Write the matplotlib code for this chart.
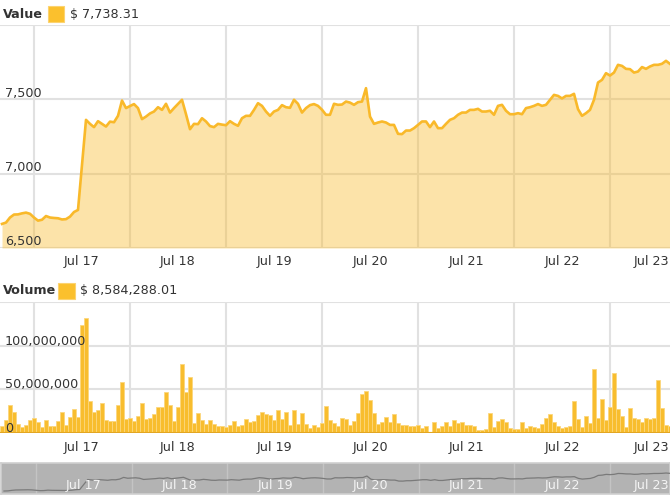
import matplotlib
matplotlib.use("Agg")
import matplotlib.pyplot as plt
import matplotlib.dates as mdates
import matplotlib.transforms as mtransforms
import pandas as pd
import numpy as np

# ---------------- data ----------------
start_time = "2018-07-16 16:00"
n_hours = 168

price = [
    6662, 6671, 6705, 6725, 6726, 6733, 6738, 6730, 6705, 6684,
    6690, 6715, 6705, 6702, 6700, 6692, 6694, 6711, 6742, 6756,
    7060, 7362, 7335, 7313, 7353, 7335, 7317, 7350, 7346, 7389,
    7492, 7441, 7455, 7468, 7441, 7367, 7384, 7405, 7418, 7447,
    7429, 7470, 7411, 7441, 7469, 7497, 7400, 7299, 7335, 7333,
    7373, 7351, 7320, 7313, 7335, 7330, 7326, 7353, 7335, 7322,
    7373, 7389, 7389, 7429, 7474, 7456, 7418, 7389, 7418, 7429,
    7461, 7447, 7443, 7497, 7470, 7411, 7441, 7461, 7468, 7456,
    7430, 7396, 7396, 7470, 7463, 7465, 7485, 7478, 7463, 7481,
    7485, 7575, 7384, 7335, 7344, 7351, 7344, 7328, 7328, 7268,
    7266, 7290, 7290, 7306, 7328, 7351, 7351, 7313, 7351, 7306,
    7306, 7335, 7362, 7373, 7396, 7411, 7411, 7429, 7429, 7436,
    7418, 7418, 7423, 7396, 7456, 7463, 7423, 7400, 7400, 7407,
    7400, 7441, 7447, 7456, 7468, 7456, 7463, 7497, 7530, 7523,
    7506, 7523, 7523, 7537, 7434, 7389, 7407, 7429, 7497, 7613,
    7631, 7676, 7660, 7680, 7732, 7725, 7705, 7703, 7680, 7687,
    7717, 7705, 7721, 7732, 7732, 7739, 7759, 7738.31,
]

volume_m = [
    7.6, 14.4, 31.8, 23.5, 10.2, 6.8, 9.1, 14.4, 17.0, 12.5,
    6.8, 14.4, 8.0, 8.0, 13.3, 23.5, 9.1, 18.2, 27.3, 18.2,
    123.8, 131.8, 36.4, 23.9, 26.1, 34.1, 14.8, 13.6, 13.6, 31.8,
    57.9, 15.9, 17.0, 13.6, 19.3, 34.1, 15.9, 17.0, 21.6, 29.5,
    29.5, 46.6, 31.8, 13.6, 29.5, 79.5, 46.6, 63.6, 11.4, 22.7,
    14.8, 10.2, 14.8, 10.2, 8.0, 7.5, 6.8, 9.1, 13.6, 8.0,
    9.1, 15.9, 12.5, 13.6, 20.4, 23.9, 21.6, 20.4, 14.8, 26.1,
    15.9, 23.9, 9.1, 26.1, 10.2, 22.7, 10.2, 5.3, 9.1, 6.8,
    11.4, 30.7, 14.8, 12.0, 7.6, 17.1, 15.9, 9.1, 13.6, 22.7,
    44.3, 47.8, 37.5, 22.7, 10.2, 12.5, 18.2, 12.5, 21.6, 11.4,
    9.1, 9.1, 7.6, 8.0, 9.1, 5.7, 8.0, 0.8, 12.5, 5.3,
    8.0, 12.5, 8.0, 14.8, 11.4, 12.5, 8.7, 9.1, 8.0, 3.4,
    3.4, 4.5, 22.7, 6.8, 13.6, 15.9, 12.5, 5.7, 4.2, 4.2,
    12.5, 5.3, 8.0, 6.8, 5.3, 10.2, 17.1, 21.6, 12.5, 8.0,
    5.7, 6.8, 8.0, 36.4, 15.9, 6.8, 19.3, 11.4, 72.8, 17.1,
    38.7, 14.8, 29.6, 68.2, 27.3, 19.3, 6.8, 28.4, 17.1, 15.9,
    12.5, 17.1, 15.9, 17.1, 60.3, 28.4, 9.1, 8.584288,
]

price_ticks = [6500, 7000, 7500, 8000]
price_tick_labels = ["6,500", "7,000", "7,500", ""]
volume_ticks = [0, 50e6, 100e6, 150e6]
volume_tick_labels = ["0", "50,000,000", "100,000,000", ""]
value_legend = "$ 7,738.31"
volume_legend = "$ 8,584,288.01"

times = pd.date_range(start_time, periods=n_hours, freq="h")
volume = np.array(volume_m) * 1e6

# ---------------- style ----------------
LINE = "#F9B92A"
BAR = "#F8BD2E"
BAR_EDGE = "#FCD77C"
GRID = "#E1E1E1"
TXT = "#333333"
FS = 9.2

W, H = 670, 500
fig = plt.figure(figsize=(W / 100, H / 100), dpi=100)
fig.patch.set_facecolor("white")


def px_axes(x0, y0, x1, y1):
    return fig.add_axes([x0 / W, 1 - y1 / H, (x1 - x0) / W, (y1 - y0) / H])


half_hour = pd.Timedelta(minutes=30)
xmin = mdates.date2num(times[0] - half_hour)
xmax = mdates.date2num(times[-1])
day_lines = pd.date_range("2018-07-17", "2018-07-23", freq="D")
label_pos = pd.date_range("2018-07-17 12:00", "2018-07-23 12:00", freq="D")
day_labels = [d.strftime("%b ") + str(d.day) for d in label_pos]


def setup_x(ax):
    ax.set_xlim(xmin, xmax)
    ax.set_xticks(mdates.date2num(day_lines))
    ax.set_xticklabels([])
    ax.tick_params(axis="x", which="both", length=0)
    for s in ax.spines.values():
        s.set_visible(False)


def draw_xlabels(ax, y_px, color=TXT, weight="normal"):
    """Day labels at mid-day; y_px is the label centre in figure pixels."""
    tr = mtransforms.blended_transform_factory(ax.transData, fig.transFigure)
    yf = 1 - y_px / H
    for pos, lab in zip(mdates.date2num(label_pos), day_labels):
        t = ax.text(pos, yf, lab, transform=tr, ha="center", va="center",
                    fontsize=FS, color=color, fontweight=weight, clip_on=False,
                    zorder=6)
        # keep the last label inside the figure, as the reference does
        xpix = ax.transData.transform((pos, 0))[0]
        if xpix + 18 > W - 1:
            t.set_ha("right")
            t.set_transform(mtransforms.blended_transform_factory(
                fig.transFigure, fig.transFigure))
            t.set_position(((W - 1) / W, yf))


def draw_ylabels(ax, ticks, labels, px_above):
    """Axis labels drawn inside the plot, centred px_above pixels over the grid line."""
    base = mtransforms.blended_transform_factory(fig.transFigure, ax.transData)
    tr = base + mtransforms.ScaledTranslation(0, px_above / 100, fig.dpi_scale_trans)
    for v, lab in zip(ticks, labels):
        if lab:
            ax.text(5 / W, v, lab, transform=tr, ha="left", va="center",
                    fontsize=FS, color=TXT, zorder=5)


# ---------------- price panel ----------------
ax1 = px_axes(0, 25, W, 248)
ax1.set_ylim(6500, 8000)
ax1.set_yticks(price_ticks)
ax1.set_yticklabels([])
ax1.tick_params(axis="y", length=0)
ax1.grid(True, which="major", color=GRID, lw=1.5, zorder=0)
ax1.set_axisbelow(True)
tnum = mdates.date2num(times)
ax1.fill_between(tnum, price, 6500, color=LINE, alpha=0.4, lw=0, zorder=1)
ax1.plot(tnum, price, color=LINE, lw=1.9, zorder=3, solid_joinstyle="round")
setup_x(ax1)
draw_xlabels(ax1, 262)
draw_ylabels(ax1, price_ticks, price_tick_labels, 6)

# ---------------- volume panel ----------------
ax2 = px_axes(0, 302, W, 433)
ax2.set_ylim(0, 150e6)
ax2.set_yticks(volume_ticks)
ax2.set_yticklabels([])
ax2.tick_params(axis="y", length=0)
ax2.grid(True, which="major", color=GRID, lw=1.5, zorder=0)
ax2.set_axisbelow(True)
ax2.bar(tnum, volume, width=1 / 24, color=BAR, edgecolor=BAR_EDGE,
        linewidth=0.6, zorder=2)
ax2.axhline(0, color="#E2A623", lw=1.5, zorder=3)
setup_x(ax2)
draw_xlabels(ax2, 447)
draw_ylabels(ax2, volume_ticks, volume_tick_labels, 4.5)

# ---------------- legends ----------------
def legend_row(y_center, title, sq_x0, sq_x1, txt_x, value):
    fig.text(3 / W, 1 - y_center / H, title, fontsize=FS, fontweight="bold",
             color=TXT, ha="left", va="center")
    fig.patches.append(plt.Rectangle((sq_x0 / W, 1 - (y_center + 8) / H),
                                     (sq_x1 - sq_x0) / W, 16 / H,
                                     transform=fig.transFigure,
                                     facecolor="#FBC02D", edgecolor="#FCD370",
                                     lw=0.8))
    fig.text(txt_x / W, 1 - y_center / H, value, fontsize=FS, color=TXT,
             ha="left", va="center")


legend_row(14, "Value", 48, 64, 70, value_legend)
legend_row(291, "Volume", 58, 75, 80, volume_legend)

# ---------------- navigator ----------------
ax3 = px_axes(1, 463, W, 494)
ax3.set_facecolor("#B3B3B3")
ax3.set_ylim(6480, 8370)
ax3.plot(tnum, price, color="#7A7A7A", lw=0.9, zorder=3)
setup_x(ax3)
ax3.set_xlim(xmin - 1 / 96, xmax)
for d in mdates.date2num(day_lines):
    ax3.axvline(d, color="#C4C4C4", lw=1, zorder=1)
ax3.set_yticks([])
for s in ax3.spines.values():
    s.set_visible(True)
    s.set_color("#CFCFCF")
    s.set_linewidth(1.2)
draw_xlabels(ax3, 486, color="#F4F4F4")

fig.savefig("out.png", dpi=100, facecolor="white")
